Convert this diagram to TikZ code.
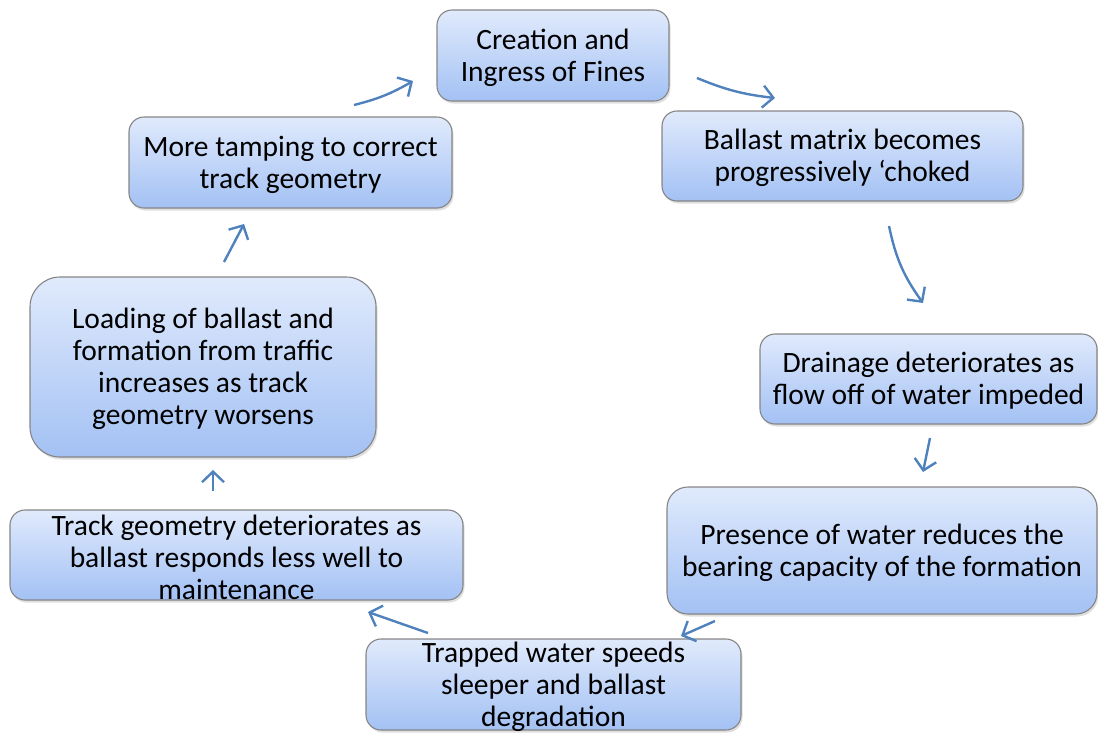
\documentclass[tikz,border=0pt]{standalone}
\usepackage{fontspec}
\setmainfont{Carlito}
\usetikzlibrary{arrows.meta,shadows}
\definecolor{boxtop}{HTML}{E0EAFC}
\definecolor{boxbot}{HTML}{A3C1F4}
\definecolor{boxline}{HTML}{858585}
\definecolor{flow}{HTML}{4F81BD}
\tikzset{
  stepbox/.style={draw=boxline, line width=1.1pt, top color=boxtop, bottom color=boxbot,
    drop shadow={opacity=0.25, shadow xshift=1.5pt, shadow yshift=-2.5pt},
    inner sep=0pt},
  steptext/.style={align=center, inner sep=0pt, font=\fontsize{29.5}{32}\selectfont},
  flowarrow/.style={draw=flow, line width=2.4pt,
    -{Straight Barb[length=10.5pt,width=22pt,line width=2.4pt]}}
}
\begin{document}
\begin{tikzpicture}[x=1pt,y=-1pt]
\useasboundingbox (0,0) rectangle (1098,732);

% process boxes
\node[stepbox, rounded corners=15pt, minimum width=232pt, minimum height=91pt] (fines) at (553,55.5) {};
\node[steptext] (finesT) at ([yshift=-2pt]fines) {Creation and\\Ingress of Fines};

\node[stepbox, rounded corners=15pt, minimum width=361pt, minimum height=90pt] (choke) at (842.5,156) {};
\node[steptext] (chokeT) at ([yshift=-2pt]choke) {Ballast matrix becomes\\progressively ‘choked};

\node[stepbox, rounded corners=15pt, minimum width=337pt, minimum height=90pt] (drain) at (928.5,379) {};
\node[steptext] (drainT) at ([yshift=-2pt]drain) {Drainage deteriorates as\\flow off of water impeded};

\node[stepbox, rounded corners=21pt, minimum width=430pt, minimum height=127pt] (bearing) at (882,550.5) {};
\node[steptext] (bearingT) at ([yshift=-2pt]bearing) {Presence of water reduces the\\bearing capacity of the formation};

\node[stepbox, rounded corners=15pt, minimum width=375pt, minimum height=91pt] (trapped) at (553.5,684.5) {};
\node[steptext] (trappedT) at ([yshift=-2pt]trapped) {Trapped water speeds\\sleeper and ballast\\degradation};

\node[stepbox, rounded corners=15pt, minimum width=453pt, minimum height=90pt] (geom) at (236.5,555) {};
\node[steptext] (geomT) at ([yshift=-2pt]geom) {Track geometry deteriorates as\\ballast responds less well to\\maintenance};

\node[stepbox, rounded corners=30pt, minimum width=346pt, minimum height=180pt] (load) at (203,367) {};
\node[steptext] (loadT) at ([yshift=-2pt]load) {Loading of ballast and\\formation from traffic\\increases as track\\geometry worsens};

\node[stepbox, rounded corners=15pt, minimum width=323pt, minimum height=91pt] (tamp) at (290.5,162.5) {};
\node[steptext] (tampT) at ([yshift=-2pt]tamp) {More tamping to correct\\track geometry};

% connector ends
\coordinate (a1s) at (354,105);  \coordinate (a1e) at (413,81);
\coordinate (a2s) at (697,78);   \coordinate (a2e) at (775,98);
\coordinate (a3s) at (889,226);  \coordinate (a3e) at (923,303);
\coordinate (a4s) at (930,438);  \coordinate (a4e) at (923,472);
\coordinate (a5s) at (715,621);  \coordinate (a5e) at (681,636);
\coordinate (a6s) at (428,633);  \coordinate (a6e) at (368,612);
\coordinate (a7s) at (213,491);  \coordinate (a7e) at (213,470);
\coordinate (a8s) at (224,262);  \coordinate (a8e) at (244,224);

% cycle connectors
\draw[flowarrow] (a1s) to[bend right=8] (a1e);
\draw[flowarrow] (a2s) to[bend right=8] (a2e);
\draw[flowarrow] (a3s) to[bend right=12] (a3e);
\draw[flowarrow] (a4s) -- (a4e);
\draw[flowarrow] (a5s) -- (a5e);
\draw[flowarrow] (a6s) -- (a6e);
\draw[flowarrow] (a7s) -- (a7e);
\draw[flowarrow] (a8s) -- (a8e);
\end{tikzpicture}
\end{document}
